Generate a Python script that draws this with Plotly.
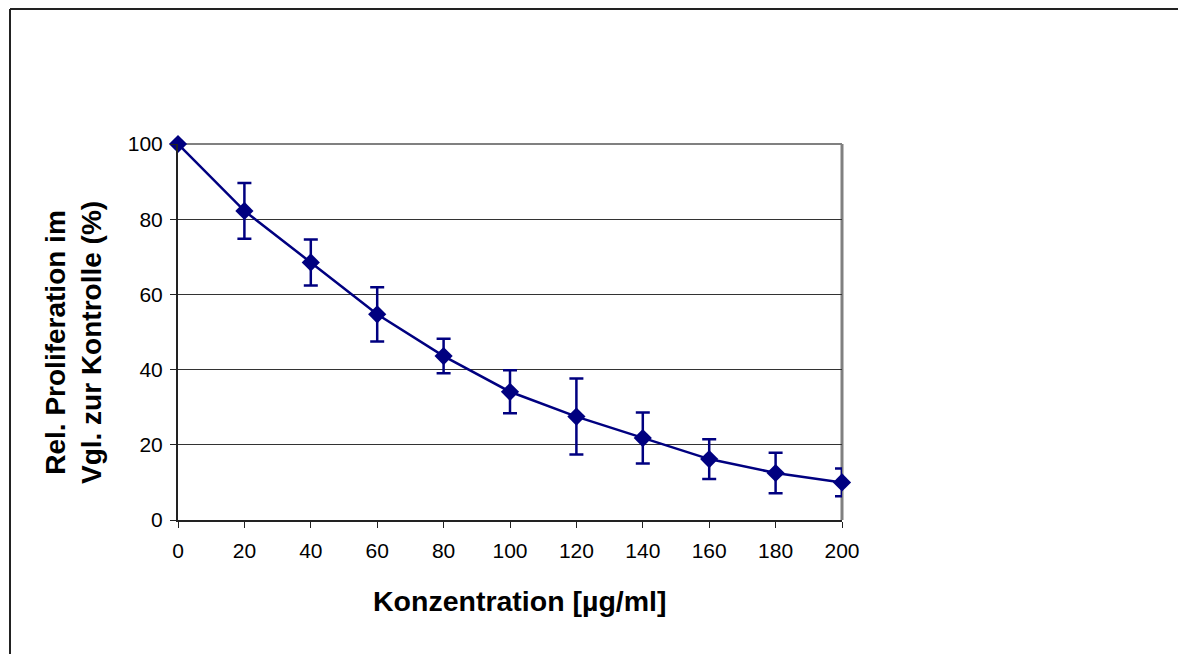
import plotly.graph_objects as go

# Concentration series (µg/ml) with mean relative proliferation and SD
konzentration = [0, 20, 40, 60, 80, 100, 120, 140, 160, 180, 200]
proliferation = [100, 82.2, 68.5, 54.7, 43.6, 34.1, 27.5, 21.8, 16.2, 12.5, 10.0]
fehler = [0, 7.4, 6.1, 7.2, 4.6, 5.7, 10.1, 6.8, 5.3, 5.4, 3.7]

x_ticks = [0, 20, 40, 60, 80, 100, 120, 140, 160, 180, 200]
y_ticks = [0, 20, 40, 60, 80, 100]

NAVY = "#000080"
FONT = "Liberation Sans, Arial, sans-serif"

fig = go.Figure()
fig.add_trace(go.Scatter(
    x=konzentration, y=proliferation,
    mode="lines+markers",
    line=dict(color=NAVY, width=2.5),
    marker=dict(symbol="diamond", size=14, color=NAVY),
    error_y=dict(type="data", array=fehler, visible=True,
                 color=NAVY, thickness=2.5, width=7),
    showlegend=False,
    cliponaxis=False,
))

fig.update_layout(
    width=1178, height=654,
    margin=dict(l=178, r=336, t=144, b=134),
    paper_bgcolor="white", plot_bgcolor="white",
    font=dict(family=FONT, color="black"),
    xaxis=dict(
        range=[0, 200], tickvals=x_ticks, ticks="outside", ticklen=6,
        tickcolor="#222", tickwidth=1, showgrid=False, zeroline=False,
        showline=True, linecolor="#222", linewidth=2,
        tickfont=dict(size=21, family=FONT), ticklabelstandoff=5,
    ),
    yaxis=dict(
        range=[0, 100], tickvals=y_ticks, ticks="outside", ticklen=6,
        tickcolor="#222", tickwidth=1, showgrid=True, gridcolor="#333",
        gridwidth=1, zeroline=False,
        showline=True, linecolor="#222", linewidth=2,
        tickfont=dict(size=21, family=FONT), ticklabelstandoff=3,
    ),
    shapes=[
        # grey top and right edges of the plotting area
        dict(type="line", xref="paper", yref="paper", x0=0, x1=1, y0=1, y1=1,
             line=dict(color="#808080", width=2), layer="below"),
        dict(type="line", xref="paper", yref="paper", x0=1, x1=1, y0=0, y1=1,
             line=dict(color="#808080", width=3), layer="below"),
        # outer chart frame (top and left)
        dict(type="line", xref="paper", yref="paper",
             x0=-168 / 664, x1=1000 / 664, y0=(520 - 9) / 376, y1=(520 - 9) / 376,
             line=dict(color="#222", width=2)),
        dict(type="line", xref="paper", yref="paper",
             x0=-168 / 664, x1=-168 / 664, y0=(520 - 9) / 376, y1=-200 / 376,
             line=dict(color="#222", width=2)),
    ],
    annotations=[
        dict(text="<b>Konzentration [µg/ml]</b>", xref="paper", yref="paper",
             x=(519 - 178) / 664, y=(520 - 601) / 376, showarrow=False,
             xanchor="center", yanchor="middle",
             font=dict(size=28.5, family=FONT, color="black")),
        dict(text="<b>Rel. Proliferation im<br>Vgl. zur Kontrolle (%)</b>",
             xref="paper", yref="paper",
             x=(73 - 178) / 664, y=(520 - 343) / 376, showarrow=False,
             textangle=-90, xanchor="center", yanchor="middle",
             font=dict(size=28, family=FONT, color="black")),
    ],
)

fig.write_html("out.html")
